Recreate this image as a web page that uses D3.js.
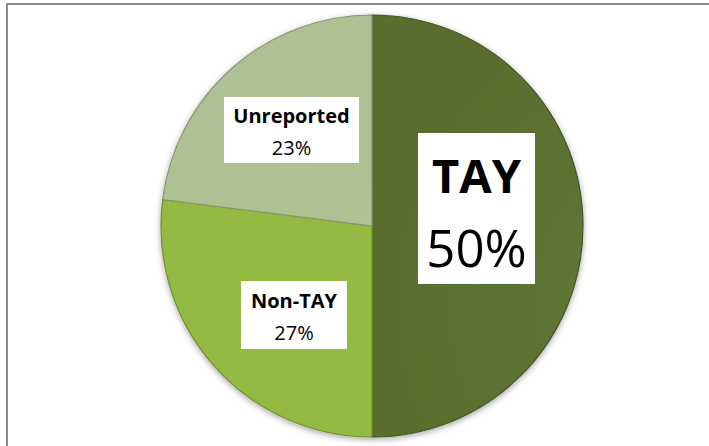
<!DOCTYPE html>
<html lang="en">
<head>
<meta charset="utf-8">
<title>TAY pie</title>
<script src="https://cdn.jsdelivr.net/npm/d3@7"></script>
<style>
  body { margin: 0; background: #fff; }
  svg { display: block; }
  text { font-family: "Open Sans", "Noto Sans", sans-serif; fill: #000; }
</style>
</head>
<body>
<script>
// data
var categories = ["TAY", "Non-TAY", "Unreported"];
var values = [50, 27, 23];
var pctLabels = ["50%", "27%", "23%"];

var w = 709, h = 446;
var cx = 372, cy = 226, r = 211;

var svg = d3.select("body").append("svg")
    .attr("width", w)
    .attr("height", h);

// frame (only top + left edges visible)
svg.append("path")
    .attr("d", "M7,446 V4 H709")
    .attr("fill", "none")
    .attr("stroke", "#8c8c8c")
    .attr("stroke-width", 2);

var defs = svg.append("defs");
var grads = [
  ["#62783a", "#586d2d"],
  ["#b4e05a", "#93ba42"],
  ["#dce9c6", "#afc193"]
];
grads.forEach(function(g, i) {
  var rg = defs.append("radialGradient")
      .attr("id", "g" + i)
      .attr("gradientUnits", "userSpaceOnUse")
      .attr("cx", cx - 40).attr("cy", cy - 150).attr("r", r * 1.7);
  rg.append("stop").attr("offset", "0%").attr("stop-color", g[0]);
  rg.append("stop").attr("offset", "100%").attr("stop-color", g[1]);
});

var shadow = defs.append("filter").attr("id", "sh")
    .attr("x", "-10%").attr("y", "-10%").attr("width", "120%").attr("height", "120%");
shadow.append("feGaussianBlur").attr("in", "SourceAlpha").attr("stdDeviation", 3);
shadow.append("feOffset").attr("dx", 0).attr("dy", 2).attr("result", "b");
shadow.append("feComponentTransfer").append("feFuncA").attr("type", "linear").attr("slope", 0.35);
var mrg = shadow.append("feMerge");
mrg.append("feMergeNode");
mrg.append("feMergeNode").attr("in", "SourceGraphic");

var pie = d3.pie().sort(null).value(function(d) { return d; });
var arc = d3.arc().innerRadius(0).outerRadius(r);
var arcs = pie(values);

var g = svg.append("g")
    .attr("transform", "translate(" + cx + "," + cy + ")");

g.append("g").attr("filter", "url(#sh)")
  .selectAll("path")
  .data(arcs)
  .enter()
  .append("path")
    .attr("d", arc)
    .attr("fill", function(d, i) { return "url(#g" + i + ")"; })
    .attr("stroke", function(d, i) { return d3.color(grads[i][1]).darker(0.7); })
    .attr("stroke-width", 1.2);

// label boxes
var boxes = [
  { x: 418, y: 133, w: 117, h: 151, t1: 193, t2: 267, s1: 47, s2: 51 },
  { x: 241, y: 281, w: 106, h: 68, t1: 308, t2: 340, s1: 20, s2: 20 },
  { x: 224, y: 97, w: 135, h: 66, t1: 123, t2: 155, s1: 20, s2: 20 }
];

var lab = svg.selectAll("g.lab")
    .data(arcs)
    .enter()
    .append("g")
    .attr("class", "lab");

lab.append("rect")
    .attr("x", function(d, i) { return boxes[i].x; })
    .attr("y", function(d, i) { return boxes[i].y; })
    .attr("width", function(d, i) { return boxes[i].w; })
    .attr("height", function(d, i) { return boxes[i].h; })
    .attr("fill", "#fff");

lab.append("text")
    .attr("x", function(d, i) { return boxes[i].x + boxes[i].w / 2; })
    .attr("y", function(d, i) { return boxes[i].t1; })
    .attr("text-anchor", "middle")
    .attr("font-weight", "bold")
    .attr("font-size", function(d, i) { return boxes[i].s1 + "px"; })
    .text(function(d, i) { return categories[i]; });

lab.append("text")
    .attr("x", function(d, i) { return boxes[i].x + boxes[i].w / 2; })
    .attr("y", function(d, i) { return boxes[i].t2; })
    .attr("text-anchor", "middle")
    .attr("font-size", function(d, i) { return boxes[i].s2 + "px"; })
    .text(function(d, i) { return pctLabels[i]; });
</script>
</body>
</html>
